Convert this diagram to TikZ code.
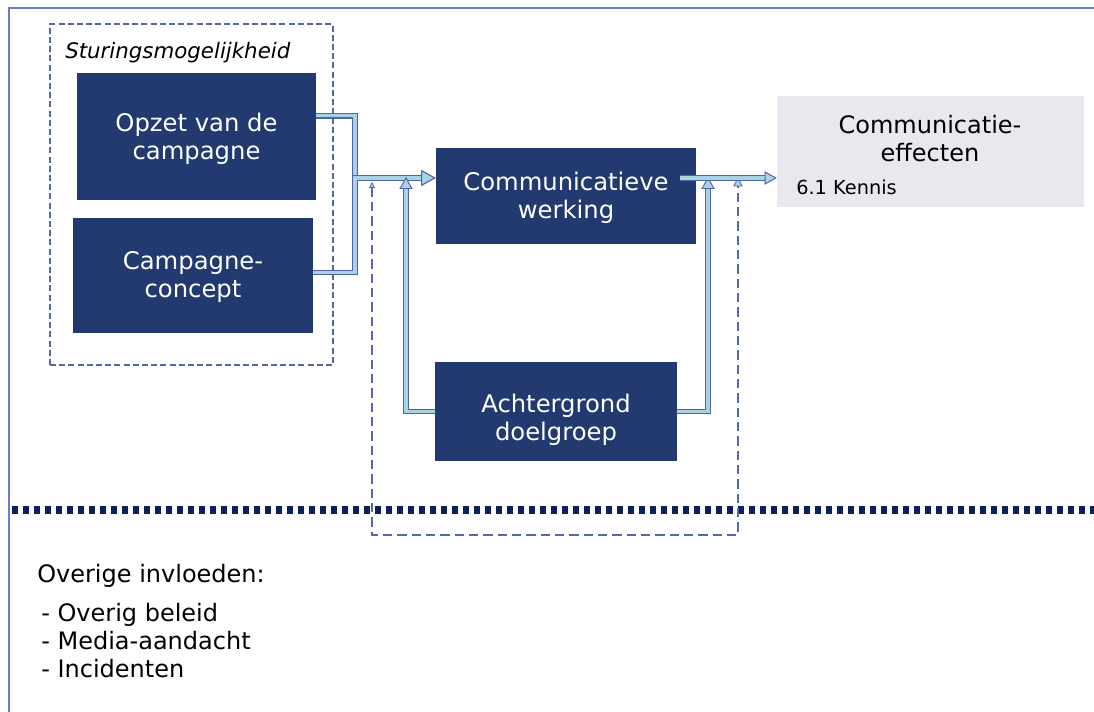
\documentclass[tikz,border=0pt]{standalone}
\usepackage{fontspec}
\setmainfont{DejaVu Sans}
\usetikzlibrary{arrows.meta,fit}
\definecolor{navy}{HTML}{223A70}
\definecolor{dotnavy}{HTML}{0B1F5B}
\definecolor{frameblue}{HTML}{6A7CC6}
\definecolor{dashblue}{HTML}{5566B0}
\definecolor{edgeblue}{HTML}{5064AA}
\definecolor{lightcyan}{HTML}{A6D2E2}
\definecolor{effgray}{HTML}{E8E8EE}
\begin{document}
\begin{tikzpicture}[x=0.75pt,y=-0.75pt,
  box/.style={fill=navy, inner sep=0pt},
  boxtext/.style={text=white, inner sep=0pt, align=center,
    font=\fontsize{18.2}{21}\selectfont},
  graybox/.style={fill=effgray, inner sep=0pt},
  label/.style={inner sep=0pt, align=left, text=black},
  conn/.style={draw=lightcyan, line width=2.3pt,
    preaction={draw=edgeblue, line width=4pt, -, shorten >=6pt},
    -{Triangle[length=9pt,width=10pt,fill=lightcyan,color=edgeblue,line width=0.7pt]}},
  bigtip/.style={-{Triangle[length=11pt,width=12pt,fill=lightcyan,color=edgeblue,line width=0.7pt]}},
  dconn/.style={draw=dashblue, line width=1.6pt, dash pattern=on 7pt off 3.75pt,
    {Triangle[length=4.5pt,width=4.5pt,fill=lightcyan,color=dashblue,line width=0.6pt]}-{Triangle[length=7pt,width=7pt,fill=lightcyan,color=dashblue,line width=0.6pt]}},
  group/.style={draw=dashblue, line width=1.5pt, dash pattern=on 4.5pt off 2.4pt}]
\useasboundingbox (0,0) rectangle (1094,712);

% frame
\draw[frameblue, line width=1.5pt] (1094,8) -- (9,8) -- (9,712);

% dotted separator
\draw[dotnavy, line width=6pt, dash pattern=on 4.5pt off 3.75pt] (12,510) -- (1094,510);

% steering group
\node[group, fit={(50,24) (333,365)}, inner sep=0pt] (grp) {};
\node[label, anchor=west, font=\fontsize{16}{19}\selectfont\itshape] (stur) at (65,53) {Sturingsmogelijkheid};

% boxes
\node[box, fit={(77,73) (316,200)}] (opzet) {};
\node[box, fit={(73,218) (313,333)}] (camp) {};
\node[box, fit={(436,148) (696,244)}] (comm) {};
\node[box, fit={(435,362) (677,461)}] (acht) {};
\node[graybox, fit={(777,96) (1084,207)}] (eff) {};
\node[boxtext] (opzett) at ([yshift=-2pt]opzet.center) {Opzet van de\\campagne};
\node[boxtext] (campt) at ([yshift=-1.5pt]camp.center) {Campagne-\\concept};
\node[boxtext] (commt) at ([yshift=-1.5pt]comm.center) {Communicatieve\\werking};
\node[boxtext] (achtt) at ([yshift=-6pt]acht.center) {Achtergrond\\doelgroep};
\node[label, align=center, font=\fontsize{18}{21}\selectfont] (efft) at (930,139) {Communicatie-\\effecten};
\node[label, anchor=west, font=\fontsize{14.5}{17}\selectfont] (kennis) at (796,187) {6.1 Kennis};

% junction coordinates
\coordinate (j1) at (355,178);
\coordinate (la) at (406,177);
\coordinate (ra) at (708,177);
\coordinate (dl) at (372,182);
\coordinate (dlb) at (372,535);
\coordinate (drb) at (738,535);
\coordinate (dr) at (738,177);

% dashed loop
\draw[dconn] (dl) -- (dlb) -- (drb) -- (dr);

% connectors
\draw[conn, bigtip] ([yshift=15.4pt]opzet.east) -| (j1) -- (comm.west |- j1);
\draw[conn, bigtip] ([yshift=2pt]camp.east) -| (j1) -- (comm.west |- j1);
\draw[conn] (acht.west) -| (la);
\draw[conn] (acht.east) -| (ra);
\draw[conn] ([xshift=-12pt]comm.east |- j1) -- (eff.west |- j1);

% other influences
\node[label, anchor=west, font=\fontsize{18}{21}\selectfont] (ov) at (37,576) {Overige invloeden:};
\node[label, anchor=north west, font=\fontsize{18}{21}\selectfont] (list) at (41,603) {- Overig beleid\\- Media-aandacht\\- Incidenten};
\end{tikzpicture}
\end{document}
